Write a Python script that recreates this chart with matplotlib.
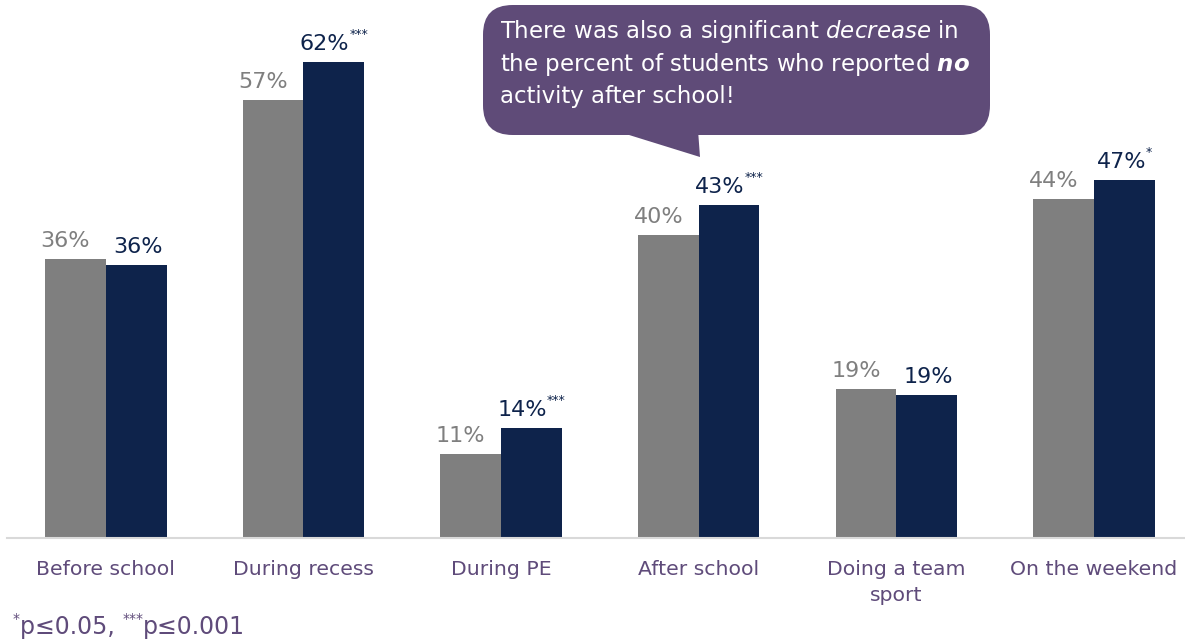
import matplotlib
matplotlib.use("Agg")
import matplotlib.pyplot as plt
from matplotlib.patches import FancyBboxPatch, Polygon
from matplotlib.transforms import IdentityTransform

categories = ["Before school", "During recess", "During PE", "After school",
              "Doing a team\nsport", "On the weekend"]
gray_vals = [36.3, 57.0, 10.9, 39.5, 19.4, 44.1]
navy_vals = [35.5, 62.0, 14.3, 43.4, 18.6, 46.6]
gray_labels = ["36%", "57%", "11%", "40%", "19%", "44%"]
navy_labels = ["36%", "62%", "14%", "43%", "19%", "47%"]
navy_stars = ["", "***", "***", "***", "", "*"]

FONT = "DejaVu Sans"
plt.rcParams["font.family"] = [FONT]
plt.rcParams["mathtext.fontset"] = "custom"
plt.rcParams["mathtext.rm"] = FONT
plt.rcParams["mathtext.it"] = FONT + ":italic"
plt.rcParams["mathtext.bf"] = FONT + ":italic:bold"

GRAY = "#7F7F7F"
NAVY = "#0E234B"
PURPLE = "#5F4B7A"
BOX = "#5F4B78"

W, H = 1185, 642
fig = plt.figure(figsize=(W / 100, H / 100), dpi=100)
ax = fig.add_axes([7 / W, (H - 538) / H, 1 - 7 / W, 538 / H])

x = list(range(len(categories)))
bw = 0.307
ax.bar([i - bw / 2 for i in x], gray_vals, width=bw, color=GRAY, zorder=2)
ax.bar([i + bw / 2 for i in x], navy_vals, width=bw, color=NAVY, zorder=2)

ax.set_xlim(-0.5, 5.46)
ax.set_ylim(0, 70.05)
for s in ["top", "right", "left"]:
    ax.spines[s].set_visible(False)
ax.spines["bottom"].set_color("#D9D9D9")
ax.spines["bottom"].set_linewidth(1.5)
ax.set_yticks([])
ax.set_xticks(x)
ax.set_xticklabels(categories, fontsize=14.7, color=PURPLE, linespacing=1.45)
ax.tick_params(axis="x", length=0, pad=16)

renderer = fig.canvas.get_renderer()
ident = IdentityTransform()


def text_width(s, size):
    t = fig.text(0, 0, s, fontsize=size)
    w = t.get_window_extent(renderer).width
    t.remove()
    return w


def place_runs(x0, y0, runs, color, center=False):
    """runs: list of (text, size, dy) ; x0,y0 in display pixels (baseline)."""
    widths = [text_width(s, sz) for s, sz, dy in runs]
    if center:
        x0 = x0 - sum(widths) / 2
    xc = x0
    for (s, sz, dy), w in zip(runs, widths):
        fig.text(xc, y0 + dy, s, fontsize=sz, color=color, transform=ident,
                 ha="left", va="baseline", zorder=6)
        xc += w


LBL = 16
for i in x:
    gx, gy = ax.transData.transform((i - bw / 2, gray_vals[i]))
    place_runs(gx - 10, gy + 12, [(gray_labels[i], LBL, 0)], GRAY, center=True)
    nx, ny = ax.transData.transform((i + bw / 2, navy_vals[i]))
    if navy_stars[i]:
        place_runs(nx, ny + 12, [(navy_labels[i], LBL, 0), (navy_stars[i], 9, 12)],
                   NAVY, center=True)
    else:
        place_runs(nx + 2, ny + 12, [(navy_labels[i], LBL, 0)], NAVY, center=True)

# callout
box = FancyBboxPatch((483 / W, 1 - 135 / H), (990 - 483) / W, (135 - 5) / H,
                     boxstyle="round,pad=0,rounding_size=0.025",
                     transform=fig.transFigure, facecolor=BOX,
                     edgecolor="none", zorder=5, mutation_aspect=W / H)
fig.add_artist(box)
tail = Polygon([(613 / W, 1 - 130 / H), (698 / W, 1 - 130 / H), (700 / W, 1 - 157 / H)],
               closed=True, transform=fig.transFigure, facecolor=BOX,
               edgecolor="none", zorder=5)
fig.add_artist(tail)
lines = [r"There was also a significant $\mathit{decrease}$ in",
         r"the percent of students who reported $\mathbf{no}$",
         "activity after school!"]
for k, ln in enumerate(lines):
    fig.text(500, H - (38 + 32.5 * k), ln, fontsize=16.5, color="white",
             transform=ident, ha="left", va="baseline", zorder=6)

place_runs(13, H - 634, [("*", 10, 11), ("p≤0.05, ", 17, 0), ("***", 10, 11),
                         ("p≤0.001", 17, 0)], PURPLE)

fig.savefig("out.png", dpi=100)
